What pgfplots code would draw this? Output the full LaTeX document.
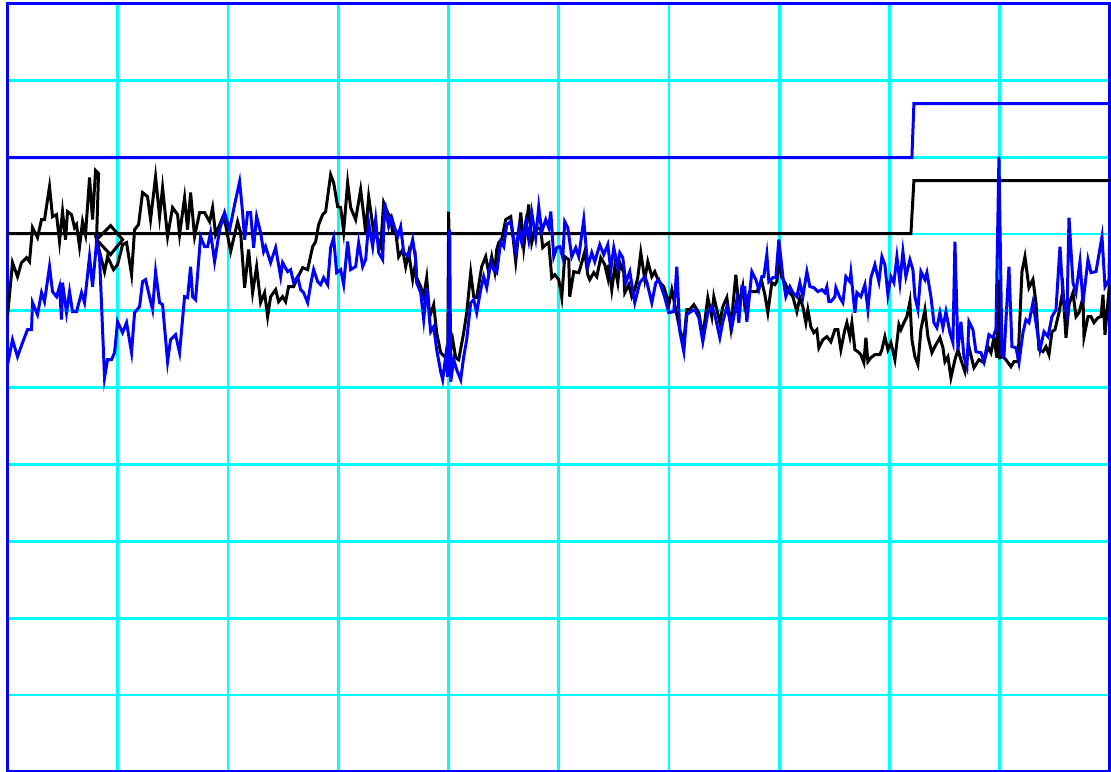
\documentclass[border=0pt]{standalone}
\usepackage{pgfplots}
\pgfplotsset{compat=1.18}
\usepackage{pgfplotstable}
\definecolor{gridcyan}{RGB}{0,255,255}
\definecolor{pureblue}{RGB}{0,0,255}

\pgfplotstableread{
x y
8 317
13 263
18 277
22 263
27 258
30 262
33 228
38 238
42 220
45 220
50 187
53 217
57 215
60 242
63 212
66 240
68 212
72 215
75 228
77 225
80 247
83 222
86 235
90 178
93 220
96 171
99 174
97 240
111 226
123 240
111 255
97 240
105 272
108 257
114 270
118 265
123 245
127 243
132 275
135 230
139 225
143 193
148 197
151 220
156 177
160 217
163 188
168 237
173 208
178 215
180 235
185 198
188 230
191 193
195 237
200 213
205 213
210 222
213 208
216 235
223 218
226 225
231 252
238 222
241 233
245 288
249 250
253 293
257 267
261 303
265 293
268 317
271 297
276 290
279 302
283 297
286 302
289 287
294 287
298 278
303 268
308 270
313 247
316 242
319 225
323 215
326 212
331 175
334 183
338 207
341 208
344 232
348 183
351 208
356 220
361 190
364 215
366 233
369 197
374 232
378 240
381 247
384 203
388 213
391 218
393 233
396 232
399 257
403 250
406 267
409 253
413 280
416 263
417 278
421 287
424 297
427 278
430 317
434 305
437 333
441 353
445 357
448 355
449 212
450 355
453 340
456 358
459 360
464 333
467 313
471 273
474 297
477 298
482 267
486 257
489 273
492 257
495 272
497 250
499 243
502 240
506 220
511 217
516 262
521 213
524 248
529 205
532 243
536 227
541 230
543 248
546 245
549 243
552 278
555 275
559 280
562 298
565 257
569 260
570 297
574 272
579 273
582 263
585 252
588 275
590 280
594 273
597 277
601 258
605 265
608 278
609 265
612 290
615 267
618 283
620 263
624 273
625 293
629 285
632 297
635 290
638 278
641 253
645 280
648 262
652 277
655 272
659 282
664 287
667 297
669 305
672 290
676 310
680 330
684 342
687 310
690 310
694 305
699 313
703 337
708 298
712 317
714 297
720 323
723 307
727 298
731 328
736 275
739 307
743 287
745 307
750 292
757 292
762 282
765 295
768 313
772 283
775 285
777 282
779 260
782 278
785 283
789 292
793 297
797 312
800 298
803 307
806 323
808 310
811 327
814 333
817 330
819 348
823 340
827 337
831 342
835 330
838 330
841 350
845 330
847 323
850 337
852 323
855 350
858 352
861 355
864 363
866 338
868 362
871 358
875 355
880 355
882 350
885 337
888 350
891 343
895 360
899 325
901 330
904 323
907 317
910 302
912 340
915 357
918 365
921 330
925 310
928 337
932 353
936 345
940 338
943 348
945 362
948 357
951 378
955 360
958 350
961 360
965 372
969 347
974 368
979 360
984 363
988 347
991 353
994 338
997 358
999 280
1000 358
1003 357
1006 360
1011 367
1014 362
1018 362
1022 272
1025 257
1029 288
1033 280
1036 303
1039 350
1043 352
1046 347
1049 355
1052 332
1055 330
1059 313
1063 290
1066 338
1069 305
1073 293
1076 317
1079 313
1083 298
1084 337
1088 317
1091 317
1094 323
1098 318
1101 317
1103 295
1105 335
1109 290
1110 263
}\blackdata

\pgfplotstableread{
x y
8 365
13 340
18 357
23 343
28 330
32 330
33 303
38 315
42 293
45 302
50 267
53 292
57 297
60 287
62 320
63 283
67 313
70 292
73 312
77 312
82 293
85 303
90 257
93 287
97 243
100 257
105 378
108 360
112 360
115 353
118 322
123 333
127 323
132 353
135 313
140 307
143 282
146 280
153 310
156 272
160 303
163 305
168 362
171 340
176 335
180 353
185 297
188 298
191 267
193 297
196 300
201 237
205 247
208 247
211 233
215 262
220 230
225 213
230 230
235 205
240 182
243 213
245 240
248 213
251 213
254 248
257 217
261 233
264 252
266 247
271 263
276 248
281 277
283 263
288 272
291 270
294 283
298 277
301 290
304 293
308 303
311 285
314 270
318 282
321 285
324 278
328 285
331 248
334 238
337 273
341 270
344 285
348 242
351 270
356 267
359 243
363 267
366 260
369 223
373 247
376 220
379 253
383 260
385 203
389 227
392 218
394 225
398 237
401 227
404 253
409 257
413 240
416 260
417 283
421 293
424 320
427 288
431 332
434 327
437 350
441 372
443 380
446 357
448 377
450 230
451 382
454 360
457 370
461 380
464 357
467 340
471 303
474 300
477 313
481 290
484 277
487 288
491 263
494 270
497 273
501 242
504 247
507 225
511 222
516 252
519 230
522 243
526 222
529 240
532 213
536 238
539 207
542 232
546 220
549 228
551 212
554 257
557 248
560 247
563 258
565 222
568 228
572 257
576 248
579 257
584 220
588 267
592 253
595 262
600 245
604 255
608 245
611 270
614 248
618 267
620 253
623 258
626 283
630 272
635 303
640 283
645 277
647 282
652 303
656 283
659 280
665 298
669 313
674 312
677 267
680 332
684 352
687 315
691 312
695 310
699 318
703 342
708 313
712 307
715 315
720 338
723 322
727 307
732 328
737 300
739 323
742 287
745 288
747 322
752 272
756 280
759 290
762 277
764 277
767 255
769 282
773 278
776 278
779 240
783 277
786 297
790 287
793 293
797 297
800 283
803 297
807 272
810 287
814 288
818 292
822 290
825 293
827 287
829 302
831 302
835 297
836 288
840 298
843 303
846 277
850 282
851 273
855 313
857 293
861 297
865 285
868 310
871 278
875 265
879 282
882 257
885 265
888 295
891 277
894 283
897 257
900 283
903 252
906 277
910 260
913 270
915 297
918 310
921 272
925 280
927 273
931 297
934 323
937 328
940 313
943 328
946 312
950 333
953 343
955 242
958 350
961 322
964 357
967 367
969 322
973 330
976 352
981 353
984 362
989 335
993 338
996 330
999 157
1002 355
1004 357
1009 267
1012 347
1016 348
1019 363
1023 333
1026 320
1029 323
1033 303
1036 323
1040 350
1044 332
1048 337
1052 317
1056 310
1060 247
1063 297
1067 315
1069 218
1073 283
1076 293
1080 262
1083 303
1088 260
1091 273
1096 272
1102 237
1105 287
1109 280
1110 213
}\bluedata

\begin{document}
\begin{tikzpicture}
\begin{axis}[
  scale only axis,
  width=11.02cm, height=7.68cm,
  xmin=8, xmax=1110, ymin=4, ymax=772,
  y dir=reverse,
  xtick={8,118.2,228.4,338.6,448.8,559,669.2,779.4,889.6,999.8,1110},
  ytick={4,80.8,157.6,234.4,311.2,388,464.8,541.6,618.4,695.2,772},
  xticklabels={}, yticklabels={},
  major tick length=0pt,
  grid=major,
  grid style={gridcyan, line width=0.8pt},
  axis line style={pureblue, line width=1pt},
  every axis plot/.append style={line width=0.85pt},
]
\addplot[black, no marks] coordinates {(8,234) (911,234) (914,181) (1110,181)};
\addplot[pureblue, no marks] coordinates {(8,158) (912,158) (914,104) (1110,104)};
\addplot[black, no marks] table[x=x, y=y] {\blackdata};
\addplot[pureblue, no marks] table[x=x, y=y] {\bluedata};
\end{axis}
\pgfresetboundingbox
\useasboundingbox ([xshift=-0.075cm]current axis.south west) rectangle ([xshift=0.01cm,yshift=0.035cm]current axis.north east);
\end{tikzpicture}
\end{document}
